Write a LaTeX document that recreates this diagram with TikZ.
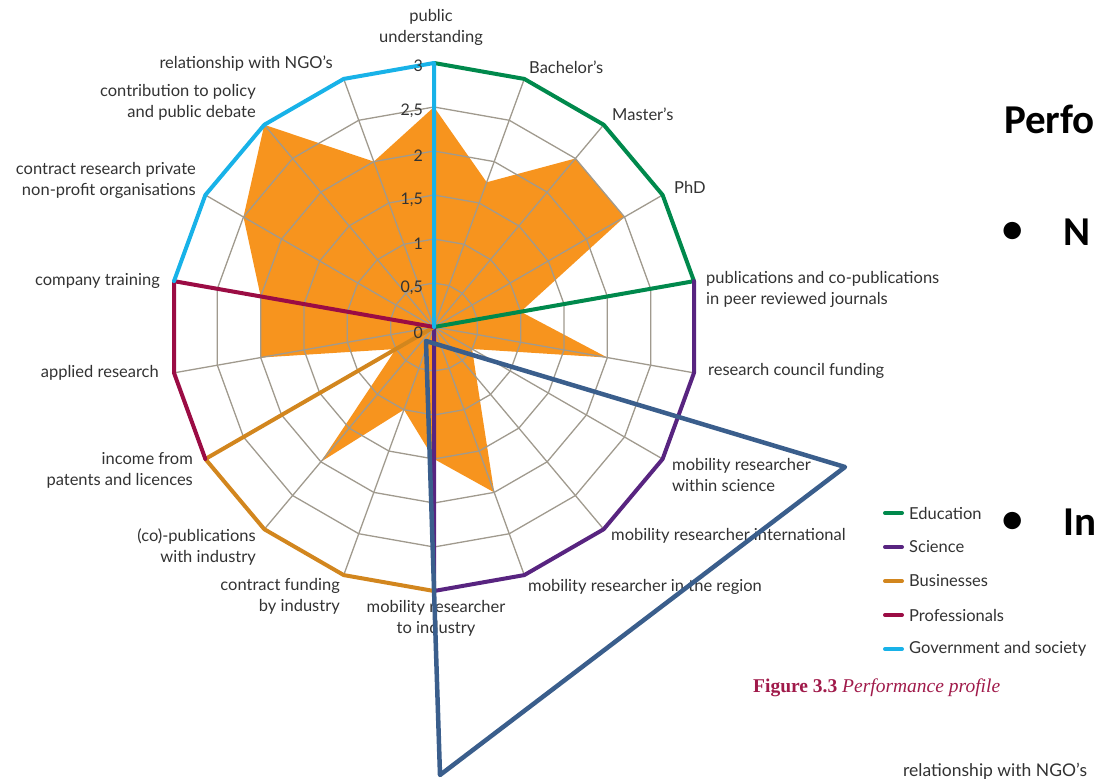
\documentclass[tikz,border=0pt]{standalone}
\usepackage{fontspec}
\setmainfont{Lato}
\newfontfamily\slidefont{Carlito}
\newfontfamily\capfont{Liberation Serif}
\usepackage{tikz}

\definecolor{eduGreen}{RGB}{0,137,76}
\definecolor{sciPurple}{RGB}{88,36,128}
\definecolor{busOrange}{RGB}{210,134,30}
\definecolor{proRed}{RGB}{155,12,68}
\definecolor{govBlue}{RGB}{24,178,232}
\definecolor{dataOrange}{RGB}{247,148,30}
\definecolor{gridGray}{RGB}{160,154,142}
\definecolor{annotBlue}{RGB}{58,94,140}
\definecolor{capRed}{RGB}{160,26,74}
\definecolor{labelGray}{RGB}{50,50,50}

\tikzset{
  gridline/.style={gridGray, line width=1.3pt},
  catline/.style={line width=4pt, line join=round, line cap=round},
  annotline/.style={annotBlue, line width=4.5pt, line join=round},
  chartlabel/.style={font=\fontsize{16.5}{21}\selectfont, text=labelGray, inner sep=0pt},
  ticklabel/.style={font=\fontsize{16}{18}\selectfont, text=labelGray, inner sep=0pt, anchor=east},
  legendlabel/.style={font=\fontsize{16.5}{18}\selectfont, text=labelGray, inner sep=0pt, anchor=west},
  legendline/.style={line width=4pt, line cap=round},
  slidetext/.style={font=\slidefont\bfseries\fontsize{41}{46}\selectfont, inner sep=0pt, anchor=west}
}

\begin{document}
\begin{tikzpicture}[x=1pt, y=-1pt]
  \useasboundingbox (0,0) rectangle (1095,781);

  % radar chart, value 1 = 88pt
  \begin{scope}[shift={(434,327)}, x=88pt, y=88pt]
    \coordinate (ctr) at (0,0);
    \fill[dataOrange] (90:2.5)
      foreach \a/\v in {70/1.75, 50/2.5, 30/2.5, 10/1, -10/2, -30/0.5, -50/0.75,
        -70/2, -90/1.5, -110/1, -130/2, -150/0.5, -170/2, -190/2, -210/2.5,
        -230/3, -250/2} { -- (\a:\v) } -- cycle;
    \foreach \r in {0.5,1,...,3}
      \draw[gridline] (90:\r) foreach \a in {70,50,...,-250} { -- (\a:\r) } -- cycle;
    \foreach \a in {90,70,...,-250}
      \draw[gridline] (ctr) -- (\a:3);
    % categories
    \draw[catline, eduGreen] (90:3) -- (70:3) -- (50:3) -- (30:3) -- (10:3) -- (ctr);
    \draw[catline, sciPurple] (10:3) -- (-10:3) -- (-30:3) -- (-50:3) -- (-70:3) -- (-90:3) -- (ctr);
    \draw[catline, busOrange] (-90:3) -- (-110:3) -- (-130:3) -- (-150:3) -- (ctr);
    \draw[catline, proRed] (-150:3) -- (-170:3) -- (170:3) -- (ctr);
    \draw[catline, govBlue] (170:3) -- (150:3) -- (130:3) -- (110:3) -- (90:3) -- (ctr);
  \end{scope}

  % scale
  \node[ticklabel] (t0) at (423,333) {0};
  \node[ticklabel] (t05) at (423,288) {0,5};
  \node[ticklabel] (t1) at (423,244) {1};
  \node[ticklabel] (t15) at (423,200) {1,5};
  \node[ticklabel] (t2) at (423,156) {2};
  \node[ticklabel] (t25) at (423,111) {2,5};
  \node[ticklabel] (t3) at (423,66) {3};

  % axis labels
  \node[chartlabel, align=center] (lblPU) at (431,27) {public\\understanding};
  \node[chartlabel, anchor=west] (lblBa) at (529,67) {Bachelor’s};
  \node[chartlabel, anchor=west] (lblMa) at (612,114) {Master’s};
  \node[chartlabel, anchor=west] (lblPhD) at (674,187) {PhD};
  \node[chartlabel, anchor=west, align=left] (lblPub) at (706,289) {publications and co-publications\\in peer reviewed journals};
  \node[chartlabel, anchor=west] (lblRC) at (708,371) {research council funding};
  \node[chartlabel, anchor=west, align=left] (lblMS) at (672,475) {mobility researcher\\within science};
  \node[chartlabel, anchor=west] (lblMI) at (611,536) {mobility researcher international};
  \node[chartlabel, anchor=west] (lblMR) at (528,587) {mobility researcher in the region};
  \node[chartlabel, align=center] (lblMT) at (436,618) {mobility researcher\\to industry};
  \node[chartlabel, anchor=east, align=right] (lblCF) at (340,596) {contract funding\\by industry};
  \node[chartlabel, anchor=east, align=right] (lblCP) at (256,547) {(co)-publications\\with industry};
  \node[chartlabel, anchor=east, align=right] (lblIP) at (193,470) {income from\\patents and licences};
  \node[chartlabel, anchor=east] (lblAR) at (159,373) {applied research};
  \node[chartlabel, anchor=east] (lblCT) at (160,281) {company training};
  \node[chartlabel, anchor=east, align=right] (lblCR) at (196,180) {contract research private\\non-profit organisations};
  \node[chartlabel, anchor=east, align=right] (lblCo) at (256,102) {contribution to policy\\and public debate};
  \node[chartlabel, anchor=east] (lblNGO) at (333,64) {relationship with NGO’s};

  % legend
  \node[legendlabel] (legEdu) at (909,513) {Education};
  \node[legendlabel] (legSci) at (909,547) {Science};
  \node[legendlabel] (legBus) at (909,581) {Businesses};
  \node[legendlabel] (legPro) at (909,615) {Professionals};
  \node[legendlabel] (legGov) at (909,649) {Government and society};
  \draw[legendline, eduGreen] ([xshift=-24pt]legEdu.west) -- ([xshift=-7pt]legEdu.west);
  \draw[legendline, sciPurple] ([xshift=-24pt]legSci.west) -- ([xshift=-7pt]legSci.west);
  \draw[legendline, busOrange] ([xshift=-24pt]legBus.west) -- ([xshift=-7pt]legBus.west);
  \draw[legendline, proRed] ([xshift=-24pt]legPro.west) -- ([xshift=-7pt]legPro.west);
  \draw[legendline, govBlue] ([xshift=-24pt]legGov.west) -- ([xshift=-7pt]legGov.west);

  \node[text=capRed, font=\capfont\fontsize{19.5}{22}\selectfont, anchor=west, inner sep=0pt] (caption) at (753,688) {\textbf{Figure 3.3} \textit{Performance profile}};
  \node[legendlabel, font=\fontsize{17.5}{19}\selectfont] (lblNGO2) at (903,771) {relationship with NGO’s};

  % slide text
  \node[slidetext] (title) at (1004,119) {Perfo};
  \node[slidetext] (bulN) at (1002,232) {•};
  \node[slidetext] (txtN) at (1063,232) {N};
  \node[slidetext] (bulIn) at (1002,522) {•};
  \node[slidetext] (txtIn) at (1063,522) {In};

  % annotation triangle
  \coordinate (triTop) at (426,341);
  \coordinate (triRight) at (845,467);
  \coordinate (triBot) at (440,775);
  \draw[annotline] (triTop) -- (triRight) -- (triBot) -- cycle;
\end{tikzpicture}
\end{document}
